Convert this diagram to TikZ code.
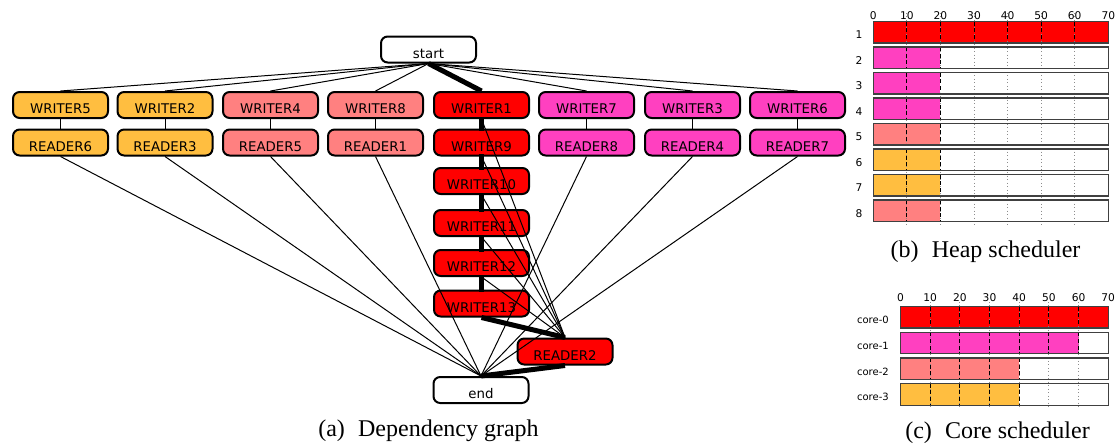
\documentclass[tikz,border=0pt]{standalone}
\usepackage{fontspec}
\setmainfont{Liberation Serif}
\newfontfamily\gfont{DejaVu Sans}
\definecolor{cOr}{RGB}{255,190,64}
\definecolor{cSal}{RGB}{255,128,128}
\definecolor{cRed}{RGB}{255,0,0}
\definecolor{cPk}{RGB}{255,64,192}
\begin{document}
\begin{tikzpicture}[x=0.75pt,y=-0.75pt,
  gn/.style={draw=black, line width=1.5pt, rounded corners=5pt, minimum width=71.25pt,
    minimum height=19.5pt, inner sep=0pt, text height=13.3pt, text depth=0pt,
    font=\gfont\fontsize{10}{12}\selectfont},
  elt/.style={line width=0.75pt},
  ekt/.style={line width=3.75pt},
  lab/.style={font=\gfont\fontsize{8}{9}\selectfont, inner sep=0pt},
  clab/.style={font=\gfont\fontsize{7.5}{9}\selectfont, inner sep=0pt, anchor=east},
  captxt/.style={font=\fontsize{18}{20}\selectfont, inner sep=0pt}
]
\useasboundingbox (0,0) rectangle (1116,447);

% ---------- dependency graph ----------
\node[gn, fill=white] (start) at (428.5,49.5) {start};
\node[gn, fill=cOr]  (w5) at (60.5,105)  {WRITER5};
\node[gn, fill=cOr]  (w2) at (165,105)   {WRITER2};
\node[gn, fill=cSal] (w4) at (270.5,105) {WRITER4};
\node[gn, fill=cSal] (w8) at (375.5,105) {WRITER8};
\node[gn, fill=cRed] (w1) at (481.5,105) {WRITER1};
\node[gn, fill=cPk]  (w7) at (586.5,105) {WRITER7};
\node[gn, fill=cPk]  (w3) at (692.5,105) {WRITER3};
\node[gn, fill=cPk]  (w6) at (797.5,105) {WRITER6};

\node[gn, fill=cOr]  (r6) at (60.5,142.5)  {READER6};
\node[gn, fill=cOr]  (r3) at (165,142.5)   {READER3};
\node[gn, fill=cSal] (r5) at (270.5,142.5) {READER5};
\node[gn, fill=cSal] (r1) at (375.5,142.5) {READER1};
\node[gn, fill=cRed] (w9) at (481.5,142.5) {WRITER9};
\node[gn, fill=cPk]  (r8) at (586.5,142.5) {READER8};
\node[gn, fill=cPk]  (r4) at (692.5,142.5) {READER4};
\node[gn, fill=cPk]  (r7) at (797.5,142.5) {READER7};

\node[gn, fill=cRed] (w10) at (481.5,181)   {WRITER10};
\node[gn, fill=cRed] (w11) at (481.5,223)   {WRITER11};
\node[gn, fill=cRed] (w12) at (481.5,263)   {WRITER12};
\node[gn, fill=cRed] (w13) at (481.5,303.5) {WRITER13};
\node[gn, fill=cRed] (r2)  at (565,351.5)   {READER2};
\node[gn, fill=white] (end) at (481,390)    {end};

% edges from start
\foreach \n in {w5,w2,w4,w8,w7,w3,w6} \draw[elt] (start.south) -- (\n.north);
\draw[ekt] (start.south) -- (w1.north);
% writer -> reader
\draw[elt] (w5.south) -- (r6.north);
\draw[elt] (w2.south) -- (r3.north);
\draw[elt] (w4.south) -- (r5.north);
\draw[elt] (w8.south) -- (r1.north);
\draw[elt] (w7.south) -- (r8.north);
\draw[elt] (w3.south) -- (r4.north);
\draw[elt] (w6.south) -- (r7.north);
% chain
\draw[ekt, line cap=rect] (w1.south) -- (w9.north);
\draw[ekt, line cap=rect] (w9.south) -- (w10.north);
\draw[ekt, line cap=rect] (w10.south) -- (w11.north);
\draw[ekt, line cap=rect] (w11.south) -- (w12.north);
\draw[ekt, line cap=rect] (w12.south) -- (w13.north);
% to reader2
\foreach \n in {w1,w9,w10,w11,w12} \draw[elt] (\n.south) -- (r2.north);
\draw[ekt] (w13.south) -- (r2.north);
% to end
\foreach \n in {r6,r3,r5,r1,r8,r4,r7} \draw[elt] (\n.south) -- (end.north);
\draw[ekt] (r2.south) -- (end.north);

\node[captxt] (capa) at (428.5,431) {(a)\hspace{0.3em} Dependency graph};

% ---------- heap scheduler ----------
\foreach \i/\c/\n in {1/cRed/7, 2/cPk/2, 3/cPk/2, 4/cPk/2, 5/cSal/2, 6/cOr/2, 7/cOr/2, 8/cSal/2} {
  \pgfmathsetmacro\t{21.5+25.5*(\i-1)}
  \pgfmathsetmacro\b{\t+21.5}
  \pgfmathsetmacro\xe{873.3+33.57*\n}
  \fill[white] (873.3,\t) rectangle (1108.3,\b);
  \fill[\c] (873.3,\t) rectangle (\xe,\b);
  \node[lab] (hl\i) at (859,{(\t+\b)/2+2.5}) {\i};
}
\foreach \k in {1,...,6} \draw[black!45, dotted, line width=0.6pt] ({873.3+33.57*\k},13) -- ++(0,212);
\foreach \i/\n in {1/7, 2/2, 3/2, 4/2, 5/2, 6/2, 7/2, 8/2} {
  \pgfmathsetmacro\t{21.5+25.5*(\i-1)}
  \pgfmathsetmacro\b{\t+21.5}
  \foreach \k in {1,...,\n} \draw[black, densely dashed, line width=0.6pt] ({873.3+33.57*\k},\t) -- ({873.3+33.57*\k},\b);
  \draw[black!75, line width=0.9pt] (873.3,\t) rectangle (1108.3,\b);
}
\foreach \k in {0,...,7} {
  \pgfmathtruncatemacro\v{\k*10}
  \node[lab] (ht\k) at ({873.3+33.57*\k},15.5) {\v};
}
\node[captxt] (capb) at (985.5,252) {(b)\hspace{0.3em} Heap scheduler};

% ---------- core scheduler ----------
\foreach \i/\c/\n in {0/cRed/7, 1/cPk/6, 2/cSal/4, 3/cOr/4} {
  \pgfmathsetmacro\t{306.5+25.7*\i}
  \pgfmathsetmacro\b{\t+21.5}
  \pgfmathsetmacro\xe{900.5+29.67*\n}
  \fill[white] (900.5,\t) rectangle (1108.2,\b);
  \fill[\c] (900.5,\t) rectangle (\xe,\b);
  \node[clab] (cl\i) at (889,{(\t+\b)/2+3}) {core-\i};
}
\foreach \k in {1,...,6} \draw[black!45, dotted, line width=0.6pt] ({900.5+29.67*\k},302) -- ++(0,107);
\foreach \i/\n in {0/7, 1/6, 2/4, 3/4} {
  \pgfmathsetmacro\t{306.5+25.7*\i}
  \pgfmathsetmacro\b{\t+21.5}
  \foreach \k in {1,...,\n} \draw[black, densely dashed, line width=0.6pt] ({900.5+29.67*\k},\t) -- ({900.5+29.67*\k},\b);
  \draw[black!75, line width=0.9pt] (900.5,\t) rectangle (1108.2,\b);
}
\foreach \k in {0,...,7} {
  \pgfmathtruncatemacro\v{\k*10}
  \node[lab] (ct\k) at ({900.5+29.67*\k},298) {\v};
}
\node[captxt] (capc) at (997.5,433) {(c)\hspace{0.3em} Core scheduler};
\end{tikzpicture}
\end{document}
